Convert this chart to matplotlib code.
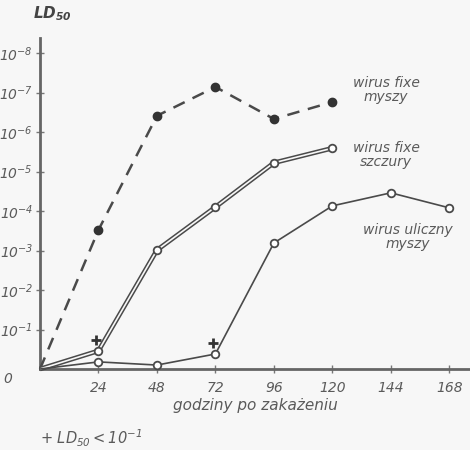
import numpy as np
import matplotlib.pyplot as plt

# DATOS (nivel = exponente decimal de LD50, 0 = eje)
hours_fixe_mice = [0, 24, 48, 72, 96, 120]
fixe_mice = [0, 3.52, 6.41, 7.14, 6.33, 6.76]

hours_fixe_rats = [0, 24, 48, 72, 96, 120]
fixe_rats = [0, 0.46, 3.01, 4.10, 5.22, 5.59]

hours_street_mice = [0, 24, 48, 72, 96, 120, 144, 168]
street_mice = [0, 0.18, 0.10, 0.38, 3.19, 4.13, 4.46, 4.08]

plus_hours = [23, 71]
plus_levels = [0.73, 0.66]

xticks = [24, 48, 72, 96, 120, 144, 168]
yticks = [1, 2, 3, 4, 5, 6, 7, 8]
yticklabels = [r"$10^{-%d}$" % k for k in yticks]

# CONFIGURACION
plt.rcParams['font.family'] = ['DejaVu Sans']
plt.rcParams['mathtext.fontset'] = 'custom'
plt.rcParams['mathtext.rm'] = 'DejaVu Sans:italic'
plt.rcParams['mathtext.it'] = 'DejaVu Sans:italic'
plt.rcParams['mathtext.bf'] = 'DejaVu Sans:bold:italic'
line_c = "#4a4a4a"
text_c = "#5a5a5a"
bg = "#f7f7f7"

fig = plt.figure(figsize=(4.7, 4.5), dpi=100, facecolor=bg)
ax = fig.add_axes([40 / 470, (450 - 369) / 450, 430 / 470, (369 - 38) / 450])
ax.set_facecolor(bg)

# wirus fixe myszy (przerywana)
ax.plot(hours_fixe_mice, fixe_mice, color=line_c, lw=1.8, dashes=(5, 3.5),
        clip_on=False, zorder=3)
ax.plot(hours_fixe_mice[1:], fixe_mice[1:], 'o', color="#333333", ms=6,
        clip_on=False, zorder=4)

# wirus fixe szczury (podwójna linia)
ax.plot(hours_fixe_rats, fixe_rats, color=line_c, lw=3.4, solid_capstyle='butt',
        clip_on=False, zorder=3)
ax.plot(hours_fixe_rats, fixe_rats, color=bg, lw=1.2, solid_capstyle='butt',
        clip_on=False, zorder=3)
ax.plot(hours_fixe_rats[1:], fixe_rats[1:], 'o', mfc="white", mec=line_c,
        mew=1.3, ms=5.5, clip_on=False, zorder=4)

# wirus uliczny myszy
ax.plot(hours_street_mice, street_mice, color=line_c, lw=1.2, clip_on=False, zorder=3)
ax.plot(hours_street_mice[1:], street_mice[1:], 'o', mfc="white", mec=line_c,
        mew=1.3, ms=5.5, clip_on=False, zorder=4)

# + LD50 < 10^-1
ax.plot(plus_hours, plus_levels, '+', color="#333333", ms=7, mew=2, zorder=4)

ax.set_xlim(0, 176.5)
ax.set_ylim(0, 8.38)
for s in ["top", "right"]:
    ax.spines[s].set_visible(False)
for s in ["left", "bottom"]:
    ax.spines[s].set_color("#666666")
    ax.spines[s].set_linewidth(2)

ax.set_xticks(xticks)
ax.set_xticklabels([str(x) for x in xticks])
ax.set_yticks(yticks)
ax.set_yticklabels(yticklabels)
ax.tick_params(direction='inout', length=6, width=1, colors="#777777",
               labelcolor=text_c, labelsize=10)
for lab in ax.get_xticklabels():
    lab.set_style('italic')
ax.tick_params(axis='x', pad=6)
ax.tick_params(axis='y', pad=2)

ax.text(-0.075, -0.01, "0", transform=ax.transAxes, style='italic',
        color=text_c, fontsize=10, ha='center', va='top')

ax.set_xlabel("godziny po zakażeniu", style='italic', color=text_c,
              fontsize=11, labelpad=2)
fig.text(52 / 470, 1 - 14 / 450, r"$\mathbf{LD_{50}}$",
         color="#444444", fontsize=11, ha='center', va='center')
fig.text(40 / 470, 1 - 438 / 450, r"+ $LD_{50} < 10^{-1}$",
         color=text_c, fontsize=10.5, ha='left', va='center')

# Etiquetas de curvas
lbl = dict(style='italic', color=text_c, fontsize=10, ha='center', va='center',
           linespacing=1.0)
fig.text(386 / 470, 1 - 90 / 450, "wirus fixe\nmyszy", **lbl)
fig.text(386 / 470, 1 - 155 / 450, "wirus fixe\nszczury", **lbl)
fig.text(408 / 470, 1 - 237 / 450, "wirus uliczny\nmyszy", **lbl)

fig.savefig("out.png", dpi=100, facecolor=bg)
